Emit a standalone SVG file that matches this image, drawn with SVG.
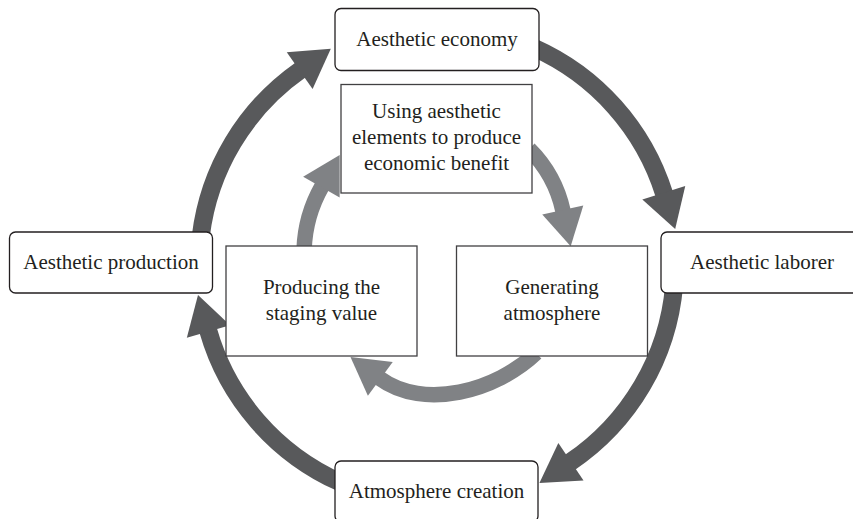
<svg xmlns="http://www.w3.org/2000/svg" width="853" height="519" viewBox="0 0 853 519">
  <style>
    .outer-box { fill: #ffffff; stroke: #231f20; stroke-width: 1.3; }
    .inner-box { fill: #ffffff; stroke: #414042; stroke-width: 1.3; }
    .label { font-family: "Liberation Serif", "Times New Roman", serif; font-size: 21px; fill: #231f20; text-anchor: middle; }
    .ring-outer { fill: none; stroke: #58595b; stroke-width: 18; stroke-linecap: butt; marker-end: url(#head-outer); }
    .ring-inner { fill: none; stroke: #808285; stroke-width: 15.5; stroke-linecap: butt; marker-end: url(#head-inner); }
  </style>
  <defs>
    <marker id="head-outer" markerUnits="userSpaceOnUse" markerWidth="40" markerHeight="46" refX="1" refY="0" orient="auto" overflow="visible">
      <path d="M0,-22.5 L38,0 L0,22.5 Z" fill="#58595b"/>
    </marker>
    <marker id="head-inner" markerUnits="userSpaceOnUse" markerWidth="40" markerHeight="44" refX="1" refY="0" orient="auto" overflow="visible">
      <path d="M0,-21 L37,0 L0,21 Z" fill="#808285"/>
    </marker>
  </defs>

  <rect width="853" height="519" fill="#ffffff"/>

  <!-- circular flow arrows -->
  <g id="connectors">
    <!-- outer cycle, centre (437,265), r 238 -->
    <path class="ring-outer" d="M200.8,236 A238,238 0 0 1 300.5,70"/>
    <path class="ring-outer" d="M533.8,47.6 A238,238 0 0 1 664.1,193.8"/>
    <path class="ring-outer" d="M674.1,285.7 A238,238 0 0 1 570.1,462.3"/>
    <path class="ring-outer" d="M340.2,482.4 A238,238 0 0 1 208.2,330.6"/>
    <!-- inner cycle -->
    <path class="ring-inner" d="M304.1,249.2 A137,137 0 0 1 321.9,186.3"/>
    <path class="ring-inner" d="M529.1,149.1 A125,125 0 0 1 563,211"/>
    <path class="ring-inner" d="M536,353 C496.4,391 423.8,410.8 379.5,378.3"/>
  </g>

  <g id="aesthetic-economy">
    <rect class="outer-box" x="335" y="8.5" width="204" height="62" rx="6"/>
    <text class="label" x="437" y="46">Aesthetic economy</text>
  </g>

  <g id="aesthetic-laborer">
    <rect class="outer-box" x="661" y="232" width="203" height="61" rx="6"/>
    <text class="label" x="762" y="269">Aesthetic laborer</text>
  </g>

  <g id="atmosphere-creation">
    <rect class="outer-box" x="335" y="461" width="203" height="61" rx="6"/>
    <text class="label" x="436.5" y="498">Atmosphere creation</text>
  </g>

  <g id="aesthetic-production">
    <rect class="outer-box" x="9.5" y="232" width="203" height="61" rx="6"/>
    <text class="label" x="111" y="269">Aesthetic production</text>
  </g>

  <g id="using-aesthetic-elements">
    <rect class="inner-box" x="341" y="84.5" width="191" height="108.5"/>
    <text class="label" x="436.5" y="118">Using aesthetic</text>
    <text class="label" x="436.5" y="144">elements to produce</text>
    <text class="label" x="436.5" y="170">economic benefit</text>
  </g>

  <g id="generating-atmosphere">
    <rect class="inner-box" x="456.5" y="246" width="191" height="110"/>
    <text class="label" x="552" y="293.5">Generating</text>
    <text class="label" x="552" y="319.5">atmosphere</text>
  </g>

  <g id="producing-staging-value">
    <rect class="inner-box" x="226" y="246" width="191" height="110"/>
    <text class="label" x="321.5" y="293.5">Producing the</text>
    <text class="label" x="321.5" y="319.5">staging value</text>
  </g>
</svg>
